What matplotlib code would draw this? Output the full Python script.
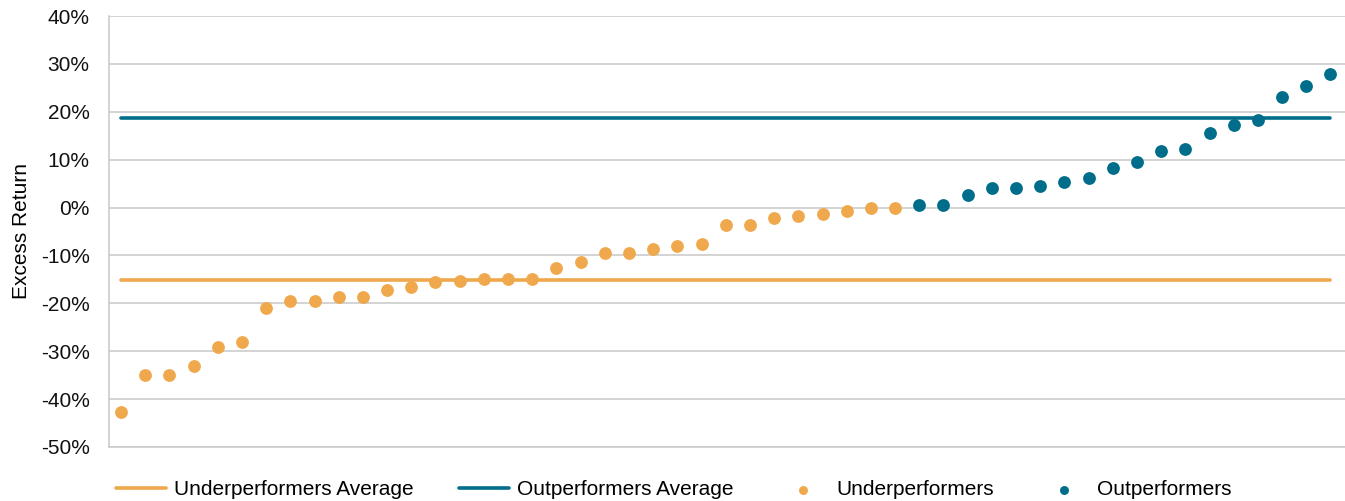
import numpy as np
import matplotlib
matplotlib.use("Agg")
import matplotlib.pyplot as plt
from matplotlib.ticker import FuncFormatter

plt.rcParams["font.family"] = ["Liberation Sans", "DejaVu Sans"]

# excess return per fund (%), sorted, split by group
under_returns = [-42.7, -35.0, -35.0, -33.2, -29.1, -28.1, -20.9, -19.5, -19.5,
                 -18.6, -18.6, -17.3, -16.5, -15.6, -15.4, -15.0, -15.0, -15.0,
                 -12.6, -11.4, -9.5, -9.5, -8.6, -8.1, -7.7, -3.6, -3.6, -2.1,
                 -1.7, -1.3, -0.8, 0.0, 0.0]
out_returns = [0.5, 0.5, 2.7, 4.0, 4.0, 4.4, 5.3, 6.2, 8.3, 9.6, 11.8, 12.3,
               15.5, 17.3, 18.2, 23.1, 25.3, 27.9]

under_avg = -15.1
out_avg = 18.6

y_ticks = list(range(-50, 41, 10))

ORANGE = "#F0A84C"
TEAL = "#006E8A"
GRID = "#C8C8C8"
FS = 15

n_under = len(under_returns)
n_total = n_under + len(out_returns)
x_under = np.arange(n_under)
x_out = np.arange(n_under, n_total)
x_all = np.arange(n_total)

fig = plt.figure(figsize=(13.45, 5.01), dpi=100)
ax = fig.add_axes([0.081, 0.108, 0.919, 0.860])

ax.plot(x_all, [under_avg] * n_total, color=ORANGE, lw=2.6,
        solid_capstyle="round", label="Underperformers Average", zorder=2)
ax.plot(x_all, [out_avg] * n_total, color=TEAL, lw=2.6,
        solid_capstyle="round", label="Outperformers Average", zorder=2)
ax.scatter(x_under, under_returns, s=85, color=ORANGE, linewidths=0,
           label="Underperformers", zorder=3)
ax.scatter(x_out, out_returns, s=85, color=TEAL, linewidths=0,
           label="Outperformers", zorder=3)

ax.set_xlim(-0.5, 50.6)
ax.set_ylim(-50, 40)
ax.set_yticks(y_ticks)
ax.yaxis.set_major_formatter(FuncFormatter(lambda v, p: f"{v:.0f}%"))
ax.set_xticks([])
ax.tick_params(axis="y", length=0, pad=14, labelsize=FS, labelcolor="#111111")
ax.grid(axis="y", color=GRID, lw=1.1, zorder=0)
ax.set_axisbelow(True)

for side in ["top", "right"]:
    ax.spines[side].set_visible(False)
for side in ["left", "bottom"]:
    ax.spines[side].set_color(GRID)
    ax.spines[side].set_linewidth(1.1)

ax.set_ylabel("Excess Return", fontsize=FS)
ax.yaxis.set_label_coords(-0.063, 0.5)

fig.legend(loc="center", bbox_to_anchor=(0.501, 0.023), ncol=4, frameon=False,
           fontsize=FS, handlelength=2.4, handletextpad=0.4,
           columnspacing=2.15, markerscale=0.7)

fig.savefig("out.png", dpi=100)
